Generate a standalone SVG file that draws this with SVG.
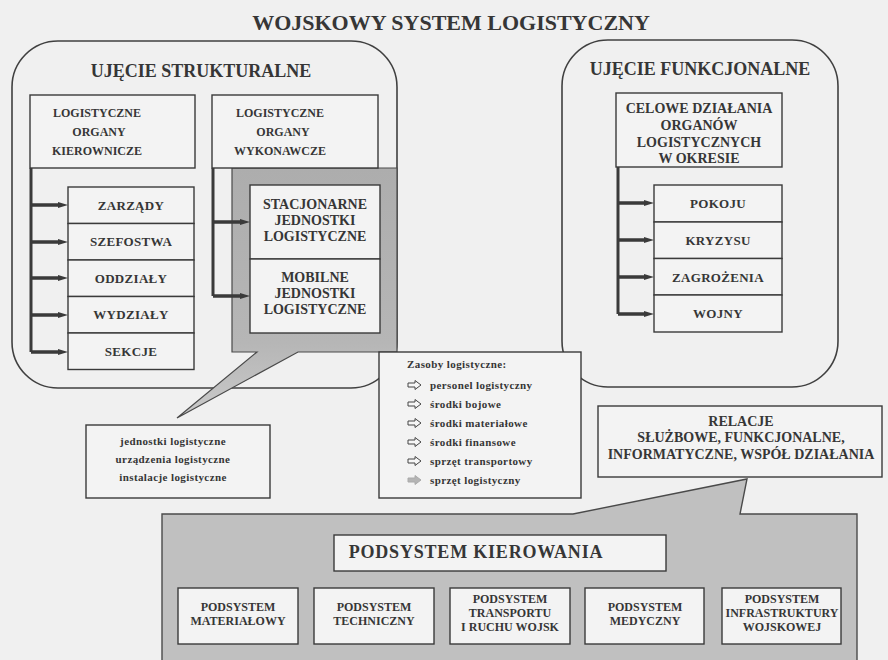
<svg xmlns="http://www.w3.org/2000/svg" width="888" height="660" viewBox="0 0 888 660">
  <style>
    text { font-family: "Liberation Serif", "Times New Roman", serif; font-weight: bold; fill: #363636; text-anchor: middle; }
    .frame { fill: none; stroke: #404040; stroke-width: 1.6; }
    .box { fill: #f3f3f3; stroke: #3a3a3a; stroke-width: 1.4; }
    .gray { fill: url(#shade); stroke: #4a4a4a; stroke-width: 1.2; }
    .bar { fill: none; stroke: #3a3a3a; stroke-width: 3; }
    .arr { stroke: #3a3a3a; stroke-width: 3.5; marker-end: url(#head); }
    .ico { fill: #f6f6f6; stroke: #444; stroke-width: 1; }
    .t22 { font-size: 22px; }
    .t18 { font-size: 18px; }
    .t14 { font-size: 14px; }
    .t13 { font-size: 13px; letter-spacing: 0.3px; }
    .t12 { font-size: 12px; }
    .t11 { font-size: 11px; letter-spacing: 0.4px; }
    .lft { text-anchor: start; }
  </style>
  <defs>
    <marker id="head" viewBox="0 0 10 8" refX="0" refY="4" markerWidth="10" markerHeight="8" markerUnits="userSpaceOnUse" orient="auto">
      <path d="M0,1 L10,4 L0,7 Z" fill="#3a3a3a"/>
    </marker>
    <linearGradient id="shade" x1="0" y1="0" x2="0" y2="1">
      <stop offset="0" stop-color="#adadad"/>
      <stop offset="0.7" stop-color="#b6b6b6"/>
      <stop offset="1" stop-color="#cacaca"/>
    </linearGradient>
    <path id="ico" d="M0,-2 H7 V-4.5 L13,0 L7,4.5 V2 H0 Z"/>
  </defs>

  <rect x="0" y="0" width="888" height="660" fill="#f0f0f0"/>

  <text id="title" class="t22" x="451" y="30">WOJSKOWY SYSTEM LOGISTYCZNY</text>

  <!-- two outer frames -->
  <g id="structural">
    <rect class="frame" x="12" y="41" width="385" height="347" rx="46"/>
    <text class="t18" x="201" y="77">UJĘCIE STRUKTURALNE</text>
  </g>
  <g id="functional">
    <rect class="frame" x="562" y="40" width="276" height="347" rx="46"/>
    <text class="t18" x="700" y="75">UJĘCIE FUNKCJONALNE</text>
  </g>

  <!-- shaded callout around the executive units -->
  <g id="units-callout">
    <path class="gray" d="M232,168 H397 V352 H298 L177,418 L257,352 H232 Z"/>
  </g>

  <g id="kierownicze">
    <rect class="box" x="30" y="95" width="165" height="73"/>
    <text class="t12" x="97" y="117">LOGISTYCZNE</text>
    <text class="t12" x="99" y="136">ORGANY</text>
    <text class="t12" x="97" y="155">KIEROWNICZE</text>
  </g>
  <g id="wykonawcze">
    <rect class="box" x="212" y="95" width="166" height="73"/>
    <text class="t12" x="280" y="117">LOGISTYCZNE</text>
    <text class="t12" x="283" y="136">ORGANY</text>
    <text class="t12" x="280" y="155">WYKONAWCZE</text>
  </g>

  <g id="zarzady"><rect class="box" x="68" y="187" width="126" height="36.5"/><text class="t13" x="131" y="210">ZARZĄDY</text></g>
  <g id="szefostwa"><rect class="box" x="68" y="223.5" width="126" height="36.5"/><text class="t13" x="131" y="246">SZEFOSTWA</text></g>
  <g id="oddzialy"><rect class="box" x="68" y="260" width="126" height="36.5"/><text class="t13" x="131" y="283">ODDZIAŁY</text></g>
  <g id="wydzialy"><rect class="box" x="68" y="296.5" width="126" height="36.5"/><text class="t13" x="131" y="319">WYDZIAŁY</text></g>
  <g id="sekcje"><rect class="box" x="68" y="333" width="126" height="36.5"/><text class="t13" x="131" y="356">SEKCJE</text></g>

  <g id="stacjonarne">
    <rect class="box" x="250" y="185" width="130" height="74"/>
    <text class="t14" x="315" y="209">STACJONARNE</text>
    <text class="t14" x="315" y="225">JEDNOSTKI</text>
    <text class="t14" x="315" y="241">LOGISTYCZNE</text>
  </g>
  <g id="mobilne">
    <rect class="box" x="250" y="259" width="130" height="74"/>
    <text class="t14" x="315" y="282">MOBILNE</text>
    <text class="t14" x="315" y="298">JEDNOSTKI</text>
    <text class="t14" x="315" y="314">LOGISTYCZNE</text>
  </g>

  <g id="celowe">
    <rect class="box" x="616" y="93" width="166" height="74"/>
    <text class="t14" x="699" y="113">CELOWE DZIAŁANIA</text>
    <text class="t14" x="699" y="130">ORGANÓW</text>
    <text class="t14" x="699" y="147">LOGISTYCZNYCH</text>
    <text class="t14" x="699" y="163">W OKRESIE</text>
  </g>

  <g id="pokoju"><rect class="box" x="654" y="185" width="128" height="37"/><text class="t13" x="718" y="208">POKOJU</text></g>
  <g id="kryzysu"><rect class="box" x="654" y="222" width="128" height="36.5"/><text class="t13" x="718" y="245">KRYZYSU</text></g>
  <g id="zagrozenia"><rect class="box" x="654" y="258.5" width="128" height="36.5"/><text class="t13" x="718" y="282">ZAGROŻENIA</text></g>
  <g id="wojny"><rect class="box" x="654" y="295" width="128" height="37"/><text class="t13" x="718" y="318">WOJNY</text></g>

  <!-- connectors: spines and arrows -->
  <g id="connectors">
    <path class="bar" d="M31,168 V352"/>
    <line class="arr" x1="31" y1="205" x2="58" y2="205"/>
    <line class="arr" x1="31" y1="242" x2="58" y2="242"/>
    <line class="arr" x1="31" y1="278" x2="58" y2="278"/>
    <line class="arr" x1="31" y1="315" x2="58" y2="315"/>
    <line class="arr" x1="31" y1="352" x2="58" y2="352"/>

    <path class="bar" d="M213,168 V296"/>
    <line class="arr" x1="213" y1="222" x2="240" y2="222"/>
    <line class="arr" x1="213" y1="296" x2="240" y2="296"/>

    <path class="bar" d="M618,167 V314"/>
    <line class="arr" x1="618" y1="203" x2="644" y2="203"/>
    <line class="arr" x1="618" y1="240" x2="644" y2="240"/>
    <line class="arr" x1="618" y1="277" x2="644" y2="277"/>
    <line class="arr" x1="618" y1="314" x2="644" y2="314"/>
  </g>

  <g id="zasoby">
    <rect class="box" x="379" y="352" width="202" height="146"/>
    <text class="t11 lft" x="407" y="368">Zasoby logistyczne:</text>
    <use href="#ico" class="ico" x="408" y="385"/>
    <use href="#ico" class="ico" x="408" y="404"/>
    <use href="#ico" class="ico" x="408" y="423"/>
    <use href="#ico" class="ico" x="408" y="442"/>
    <use href="#ico" class="ico" x="408" y="461"/>
    <use href="#ico" x="408" y="480" fill="#b4b4b4" stroke="#aaa" stroke-width="1"/>
    <text class="t11 lft" x="430" y="389">personel logistyczny</text>
    <text class="t11 lft" x="430" y="408">środki bojowe</text>
    <text class="t11 lft" x="430" y="427">środki materiałowe</text>
    <text class="t11 lft" x="430" y="446">środki finansowe</text>
    <text class="t11 lft" x="430" y="465">sprzęt transportowy</text>
    <text class="t11 lft" x="430" y="484">sprzęt logistyczny</text>
  </g>

  <g id="jednostki">
    <rect class="box" x="86" y="425" width="184" height="73"/>
    <text class="t11" x="173" y="445" fill="#555">jednostki logistyczne</text>
    <text class="t11" x="173" y="463" fill="#555">urządzenia logistyczne</text>
    <text class="t11" x="173" y="481" fill="#555">instalacje logistyczne</text>
  </g>

  <g id="relacje">
    <rect class="box" x="598" y="406" width="284" height="71"/>
    <text class="t14" x="741" y="426">RELACJE</text>
    <text class="t14" x="741" y="442">SŁUŻBOWE, FUNKCJONALNE,</text>
    <text class="t14" x="741" y="459">INFORMATYCZNE, WSPÓŁ DZIAŁANIA</text>
  </g>

  <!-- shaded subsystem panel with pointer to the relations box -->
  <g id="subsystems">
    <path d="M162,514 H573 L747,479 L740,514 H857 V666 H162 Z" fill="#c0c0c0" stroke="#4a4a4a" stroke-width="1.4"/>
  </g>

  <g id="kierowania">
    <rect class="box" x="334" y="535" width="332" height="36"/>
    <text x="476" y="558" style="font-size:18px;letter-spacing:0.8px">PODSYSTEM KIEROWANIA</text>
  </g>
  <g id="materialowy">
    <rect class="box" x="178" y="588" width="120" height="56"/>
    <text class="t12" x="238" y="611">PODSYSTEM</text>
    <text class="t12" x="238" y="625">MATERIAŁOWY</text>
  </g>
  <g id="techniczny">
    <rect class="box" x="314" y="588" width="120" height="56"/>
    <text class="t12" x="374" y="611">PODSYSTEM</text>
    <text class="t12" x="374" y="625">TECHNICZNY</text>
  </g>
  <g id="transportu">
    <rect class="box" x="450" y="588" width="120" height="56"/>
    <text class="t12" x="510" y="603">PODSYSTEM</text>
    <text class="t12" x="510" y="617">TRANSPORTU</text>
    <text class="t12" x="510" y="631">I RUCHU WOJSK</text>
  </g>
  <g id="medyczny">
    <rect class="box" x="585" y="588" width="119" height="56"/>
    <text class="t12" x="645" y="611">PODSYSTEM</text>
    <text class="t12" x="645" y="625">MEDYCZNY</text>
  </g>
  <g id="infrastruktury">
    <rect class="box" x="722" y="588" width="119" height="56"/>
    <text class="t12" x="782" y="603">PODSYSTEM</text>
    <text class="t12" x="782" y="617">INFRASTRUKTURY</text>
    <text class="t12" x="782" y="631">WOJSKOWEJ</text>
  </g>
</svg>
